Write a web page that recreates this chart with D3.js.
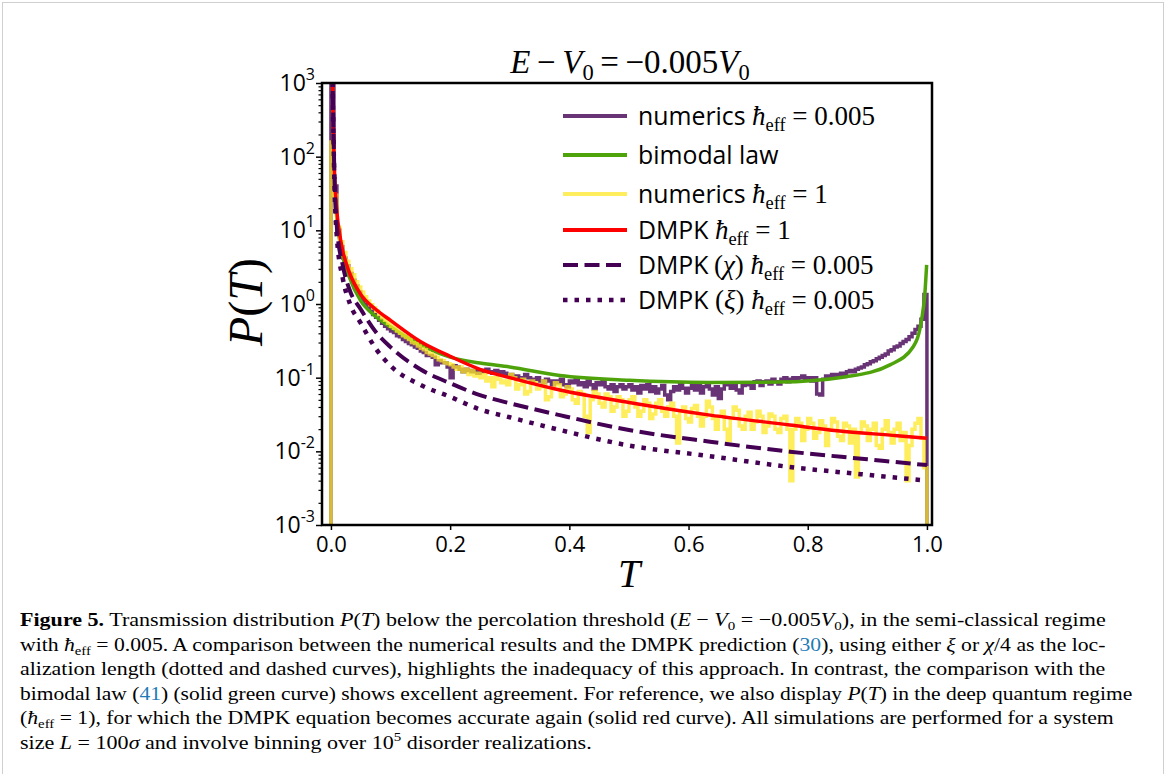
<!DOCTYPE html>
<html>
<head>
<meta charset="utf-8">
<script src="https://cdn.jsdelivr.net/npm/d3@7"></script>
<style>
  body { margin: 0; background: #fff; }
  svg { display: block; }
</style>
</head>
<body>
<svg id="fig" width="1167" height="774"></svg>
<script>
// ---- data ----
const binWidth = 0.005;
// numerics hbar_eff = 0.005 (histogram, 200 bins on [0,1])
const purpleHist = [2000, 40, 10, 6, 4.2, 3.3, 2.6, 2.1, 1.75, 1.45,
  1.2, 1.05, 0.92, 0.82, 0.72, 0.66, 0.6, 0.55, 0.5, 0.46,
  0.43, 0.41, 0.37, 0.36, 0.33, 0.31, 0.29, 0.28, 0.26, 0.25,
  0.23, 0.22, 0.2, 0.2, 0.19, 0.15, 0.17, 0.16, 0.16, 0.14,
  0.1, 0.145, 0.14, 0.13, 0.12, 0.13, 0.125, 0.12, 0.125, 0.115,
  0.12, 0.125, 0.13, 0.12, 0.115, 0.125, 0.11, 0.12, 0.115, 0.105,
  0.11, 0.1, 0.105, 0.095, 0.1, 0.11, 0.1, 0.09, 0.095, 0.1,
  0.09, 0.085, 0.095, 0.09, 0.08, 0.09, 0.085, 0.095, 0.08, 0.075,
  0.09, 0.085, 0.095, 0.08, 0.085, 0.075, 0.09, 0.08, 0.07, 0.085,
  0.08, 0.09, 0.075, 0.07, 0.08, 0.065, 0.075, 0.08, 0.07, 0.075,
  0.08, 0.068, 0.075, 0.062, 0.078, 0.07, 0.08, 0.065, 0.075, 0.062,
  0.07, 0.078, 0.058, 0.05, 0.065, 0.075, 0.068, 0.08, 0.072, 0.062,
  0.072, 0.08, 0.068, 0.078, 0.062, 0.075, 0.08, 0.07, 0.058, 0.075,
  0.052, 0.07, 0.08, 0.085, 0.072, 0.08, 0.068, 0.062, 0.078, 0.085,
  0.08, 0.072, 0.088, 0.09, 0.078, 0.088, 0.09, 0.082, 0.095, 0.088,
  0.082, 0.095, 0.1, 0.088, 0.095, 0.1, 0.09, 0.1, 0.105, 0.095,
  0.1, 0.09, 0.1, 0.06, 0.058, 0.095, 0.105, 0.1, 0.11, 0.105,
  0.11, 0.115, 0.11, 0.12, 0.125, 0.12, 0.13, 0.135, 0.14, 0.15,
  0.155, 0.165, 0.17, 0.18, 0.19, 0.2, 0.21, 0.23, 0.24, 0.26,
  0.27, 0.29, 0.31, 0.33, 0.36, 0.4, 0.45, 0.5, 0.62, 1.35];
// numerics hbar_eff = 1 (histogram, 200 bins on [0,1])
const yellowHist = [158, 30, 11, 7, 5, 3.8, 3.0, 2.5, 2.0, 1.7,
  1.45, 1.25, 1.1, 0.98, 0.88, 0.8, 0.72, 0.65, 0.6, 0.55,
  0.5, 0.47, 0.43, 0.4, 0.37, 0.35, 0.33, 0.3, 0.29, 0.27,
  0.25, 0.24, 0.22, 0.21, 0.2, 0.19, 0.175, 0.17, 0.16, 0.155,
  0.15, 0.14, 0.13, 0.14, 0.12, 0.13, 0.11, 0.125, 0.105, 0.115,
  0.1, 0.11, 0.09, 0.1, 0.075, 0.1, 0.095, 0.085, 0.09, 0.08,
  0.11, 0.1, 0.07, 0.08, 0.095, 0.06, 0.065, 0.09, 0.085, 0.07,
  0.075, 0.09, 0.05, 0.055, 0.07, 0.085, 0.08, 0.055, 0.06, 0.075,
  0.07, 0.05, 0.045, 0.065, 0.06, 0.03, 0.018, 0.05, 0.065, 0.06,
  0.045, 0.04, 0.06, 0.055, 0.035, 0.04, 0.055, 0.05, 0.03, 0.035,
  0.05, 0.055, 0.04, 0.03, 0.035, 0.05, 0.045, 0.028, 0.032, 0.045,
  0.05, 0.035, 0.03, 0.04, 0.045, 0.03, 0.013, 0.035, 0.04, 0.028,
  0.025, 0.038, 0.042, 0.03, 0.022, 0.03, 0.048, 0.04, 0.028, 0.02,
  0.03, 0.035, 0.02, 0.014, 0.028, 0.04, 0.036, 0.022, 0.02, 0.03,
  0.034, 0.02, 0.025, 0.035, 0.03, 0.018, 0.022, 0.032, 0.03, 0.02,
  0.018, 0.028, 0.03, 0.02, 0.004, 0.02, 0.028, 0.024, 0.014, 0.02,
  0.028, 0.024, 0.015, 0.018, 0.026, 0.022, 0.012, 0.02, 0.028, 0.025,
  0.016, 0.014, 0.024, 0.022, 0.013, 0.02, 0.0045, 0.018, 0.025, 0.022,
  0.014, 0.02, 0.024, 0.012, 0.011, 0.02, 0.026, 0.018, 0.013, 0.02,
  0.024, 0.014, 0.018, 0.004, 0.012, 0.02, 0.024, 0.028, 0.015, 0.006];

const bimodalT = [0.002, 0.004, 0.006, 0.01, 0.015, 0.02, 0.03, 0.05, 0.075, 0.1, 0.15, 0.2, 0.25, 0.3, 0.384, 0.5, 0.636, 0.75, 0.865, 0.938, 0.977, 0.991, 0.9966, 0.9995];
const bimodalP = [2000, 200, 50, 14, 7, 4.3, 2.4, 1.1, 0.68, 0.49, 0.28, 0.19, 0.158, 0.14, 0.107, 0.092, 0.086, 0.087, 0.103, 0.149, 0.263, 0.61, 1.4, 3.4];

const dmpkT = [0.002, 0.004, 0.006, 0.01, 0.015, 0.02, 0.03, 0.05, 0.075, 0.1, 0.15, 0.2, 0.25, 0.3, 0.384, 0.5, 0.636, 0.77, 0.85, 0.95, 1.0];
const dmpkP = [3000, 250, 60, 18, 8.5, 5.2, 2.8, 1.35, 0.85, 0.6, 0.31, 0.195, 0.13, 0.1, 0.068, 0.046, 0.031, 0.0228, 0.019, 0.0163, 0.015];

const chiT = [0.002, 0.004, 0.006, 0.01, 0.02, 0.032, 0.05, 0.075, 0.1, 0.15, 0.2, 0.25, 0.3, 0.384, 0.5, 0.636, 0.77, 0.9, 1.0];
const chiP = [3000, 300, 50, 11, 3.3, 1.5, 0.85, 0.42, 0.26, 0.13, 0.084, 0.058, 0.045, 0.031, 0.0195, 0.0135, 0.0099, 0.0078, 0.0065];

const xiT = [0.002, 0.004, 0.006, 0.01, 0.02, 0.032, 0.05, 0.075, 0.1, 0.15, 0.2, 0.25, 0.3, 0.384, 0.5, 0.636, 0.765, 0.9, 1.0];
const xiP = [3000, 250, 40, 8, 2.2, 1.0, 0.55, 0.25, 0.145, 0.08, 0.055, 0.037, 0.029, 0.0195, 0.012, 0.0086, 0.0062, 0.0048, 0.004];

const xTicks = [0, 0.2, 0.4, 0.6, 0.8, 1.0];
const yExps = [-3, -2, -1, 0, 1, 2, 3];

// ---- layout ----
const svg = d3.select('#fig');
const plot = { left: 322, right: 932, top: 83, bottom: 525 };
const serif = "'Liberation Serif', 'DejaVu Serif', serif";
const sans = "'Open Sans', 'Noto Sans', sans-serif";

const x = d3.scaleLinear().domain([-0.015, 1.0085]).range([plot.left, plot.right]);
const y = d3.scaleLog().domain([1e-3, 1e3]).range([plot.bottom, plot.top]);
const floorVal = 1e-5;

// page frame
svg.append('rect')
  .attr('x', 2.5).attr('y', 2.5).attr('width', 1161).attr('height', 800)
  .attr('fill', 'none').attr('stroke', '#cfcfcf').attr('stroke-width', 1);

svg.append('clipPath').attr('id', 'plotclip')
  .append('rect')
  .attr('x', plot.left).attr('y', plot.top)
  .attr('width', plot.right - plot.left).attr('height', plot.bottom - plot.top);

const g = svg.append('g').attr('clip-path', 'url(#plotclip)');

function stepPoints(vals) {
  var pts = [[0, floorVal]];
  vals.forEach(function (v, i) {
    pts.push([i * binWidth, v]);
    pts.push([(i + 1) * binWidth, v]);
  });
  pts.push([vals.length * binWidth, floorVal]);
  return pts;
}

const stepLine = d3.line().x(d => x(d[0])).y(d => y(d[1]));
const smoothLine = d3.line().x(d => x(d[0])).y(d => y(d[1])).curve(d3.curveMonotoneX);
const zip = (a, b) => a.map((t, i) => [t, b[i]]);

const colPurple = '#440154', colGreen = '#4fa30a', colYellow = '#fde725', colRed = '#ff0000';

g.append('path').attr('d', stepLine(stepPoints(purpleHist)))
  .attr('fill', 'none').attr('stroke', colPurple).attr('stroke-opacity', 0.8)
  .attr('stroke-width', 3.5).attr('stroke-linejoin', 'miter');

g.append('path').attr('d', smoothLine(zip(bimodalT, bimodalP)))
  .attr('fill', 'none').attr('stroke', colGreen).attr('stroke-width', 3.5);

g.append('path').attr('d', stepLine(stepPoints(yellowHist)))
  .attr('fill', 'none').attr('stroke', colYellow).attr('stroke-opacity', 0.75)
  .attr('stroke-width', 3.5).attr('stroke-linejoin', 'miter');

g.append('path').attr('d', smoothLine(zip(dmpkT, dmpkP)))
  .attr('fill', 'none').attr('stroke', colRed).attr('stroke-width', 3.5);

g.append('path').attr('d', smoothLine(zip(chiT, chiP)))
  .attr('fill', 'none').attr('stroke', colPurple).attr('stroke-width', 4)
  .attr('stroke-dasharray', '15,6.5');

g.append('path').attr('d', smoothLine(zip(xiT, xiP)))
  .attr('fill', 'none').attr('stroke', colPurple).attr('stroke-width', 4.5)
  .attr('stroke-dasharray', '4.5,7');

// ---- axes ----
const xAxis = svg.append('g')
  .attr('transform', `translate(0,${plot.bottom})`)
  .call(d3.axisBottom(x).tickValues(xTicks).tickSize(5).tickPadding(6)
    .tickFormat(d3.format('.1f')));
xAxis.select('.domain').remove();
xAxis.selectAll('line').attr('stroke-width', 1.5);
xAxis.selectAll('text').attr('font-family', sans).attr('font-size', 22).attr('fill', '#000');

const yAxis = svg.append('g')
  .attr('transform', `translate(${plot.left},0)`)
  .call(d3.axisLeft(y).tickValues(yExps.map(e => Math.pow(10, e))).tickSize(6).tickFormat(''));
yAxis.select('.domain').remove();
yAxis.selectAll('line').attr('stroke-width', 1.5);

const minorVals = [];
yExps.slice(0, -1).forEach(e => {
  [2, 3, 4, 5, 6, 7, 8, 9].forEach(m => minorVals.push(m * Math.pow(10, e)));
});
const yMinor = svg.append('g')
  .attr('transform', `translate(${plot.left},0)`)
  .call(d3.axisLeft(y).tickValues(minorVals).tickSize(3.5).tickFormat(''));
yMinor.select('.domain').remove();
yMinor.selectAll('line').attr('stroke-width', 1.2);

yExps.forEach(e => {
  const t = svg.append('text')
    .attr('x', 315).attr('y', y(Math.pow(10, e)) + 8)
    .attr('text-anchor', 'end')
    .attr('font-family', sans).attr('font-size', 23).attr('fill', '#000');
  t.append('tspan').text('10');
  t.append('tspan').text(String(e)).attr('font-size', 16).attr('dy', -11);
});

// spines
svg.append('rect')
  .attr('x', plot.left).attr('y', plot.top)
  .attr('width', plot.right - plot.left).attr('height', plot.bottom - plot.top)
  .attr('fill', 'none').attr('stroke', '#000').attr('stroke-width', 2.5);

// ---- rich text helper ----
function rich(sel, segs, base) {
  var shift = 0;
  segs.forEach(function (s) {
    var txt = s[0], st = s[1] || '';
    var ts = sel.append('tspan').text(txt);
    var target = 0, size = base;
    if (st.indexOf('sub') >= 0) { target = base * 0.22; size = base * 0.68; }
    if (st.indexOf('sup') >= 0) { target = -base * 0.4; size = base * 0.68; }
    if (target !== shift) { ts.attr('dy', target - shift); shift = target; }
    ts.attr('font-size', size);
    if (st.indexOf('i') === 0 || st.indexOf('mi') >= 0) ts.attr('font-style', 'italic');
    if (st.indexOf('b') === 0 && st !== 'blue') ts.attr('font-weight', 'bold');
    if (st === 'blue') ts.attr('fill', '#1f7bb6');
    if (st.indexOf('sans') >= 0) ts.attr('font-family', sans).attr('font-size', size * 0.92);
  });
}

// title
const title = svg.append('text')
  .attr('x', (plot.left + plot.right) / 2 + 3).attr('y', 73)
  .attr('text-anchor', 'middle').attr('font-family', serif).attr('font-size', 33);
rich(title, [['E', 'mi'], ['\u2009\u2212\u2009'], ['V', 'mi'], ['0', 'sub'],
  ['\u2009=\u2009\u22120.005'], ['V', 'mi'], ['0', 'sub']], 33);

// axis labels
svg.append('text')
  .attr('x', (plot.left + plot.right) / 2 + 2).attr('y', 587)
  .attr('text-anchor', 'middle').attr('font-family', serif)
  .attr('font-style', 'italic').attr('font-size', 40).text('T');

const ylab = svg.append('text')
  .attr('transform', 'translate(262,302) rotate(-90)')
  .attr('text-anchor', 'middle').attr('font-family', serif).attr('font-size', 48);
rich(ylab, [['P', 'mi'], ['('], ['T', 'mi'], [')']], 48);

// ---- legend ----
const legendRows = [
  { y: 116, stroke: colPurple, op: 0.8, w: 4, dash: null,
    segs: [['numerics ', 'sans'], ['\u0127', 'mi'], ['eff', 'sub'], [' = 0.005']] },
  { y: 155, stroke: colGreen, op: 1, w: 4, dash: null,
    segs: [['bimodal law', 'sans']] },
  { y: 194, stroke: colYellow, op: 0.75, w: 4, dash: null,
    segs: [['numerics ', 'sans'], ['\u0127', 'mi'], ['eff', 'sub'], [' = 1']] },
  { y: 230, stroke: colRed, op: 1, w: 4, dash: null,
    segs: [['DMPK ', 'sans'], ['\u0127', 'mi'], ['eff', 'sub'], [' = 1']] },
  { y: 265, stroke: colPurple, op: 1, w: 4, dash: '15,6.5',
    segs: [['DMPK', 'sans'], ['\u2009('], ['\u03c7', 'mi'], [') '], ['\u0127', 'mi'], ['eff', 'sub'], [' = 0.005']] },
  { y: 300, stroke: colPurple, op: 1, w: 4.5, dash: '4.5,7',
    segs: [['DMPK ', 'sans'], ['('], ['\u03be', 'mi'], [') '], ['\u0127', 'mi'], ['eff', 'sub'], [' = 0.005']] }
];
legendRows.forEach(r => {
  svg.append('line')
    .attr('x1', 563).attr('x2', 627).attr('y1', r.y).attr('y2', r.y)
    .attr('stroke', r.stroke).attr('stroke-opacity', r.op)
    .attr('stroke-width', r.w).attr('stroke-dasharray', r.dash);
  const t = svg.append('text')
    .attr('x', 638).attr('y', r.y + 9)
    .attr('font-family', serif).attr('font-size', 27).attr('fill', '#000');
  rich(t, r.segs, 27);
});

// ---- caption ----
const capLines = [
  { w: 1086, segs: [['Figure 5.', 'b'], [' Transmission distribution '], ['P', 'i'], ['('], ['T', 'i'],
    [') below the percolation threshold ('], ['E', 'i'], [' \u2212 '], ['V', 'i'], ['0', 'sub'],
    [' = \u22120.005'], ['V', 'i'], ['0', 'sub'], ['), in the semi-classical regime']] },
  { w: 1086, segs: [['with '], ['\u0127', 'i'], ['eff', 'sub'],
    [' = 0.005. A comparison between the numerical results and the DMPK prediction ('], ['30', 'blue'],
    ['), using either '], ['\u03be', 'i'], [' or '], ['\u03c7', 'i'], ['/4 as the loc-']] },
  { w: 1086, segs: [['alization length (dotted and dashed curves), highlights the inadequacy of this approach. In contrast, the comparison with the']] },
  { w: 1113, segs: [['bimodal law ('], ['41', 'blue'], [') (solid green curve) shows excellent agreement. For reference, we also display '],
    ['P', 'i'], ['('], ['T', 'i'], [') in the deep quantum regime']] },
  { w: 1094, segs: [['('], ['\u0127', 'i'], ['eff', 'sub'],
    [' = 1), for which the DMPK equation becomes accurate again (solid red curve). All simulations are performed for a system']] },
  { w: 572, segs: [['size '], ['L', 'i'], [' = 100'], ['\u03c3', 'i'], [' and involve binning over 10'], ['5', 'sup'],
    [' disorder realizations.']] }
];
capLines.forEach((ln, i) => {
  const t = svg.append('text')
    .attr('x', 0).attr('y', 0)
    .attr('font-family', serif).attr('font-size', 19).attr('fill', '#000');
  rich(t, ln.segs, 19);
  const nat = t.node().getComputedTextLength();
  t.attr('transform', `translate(20,${626 + i * 24.5}) scale(${ln.w / nat},1)`);
});
</script>
</body>
</html>
